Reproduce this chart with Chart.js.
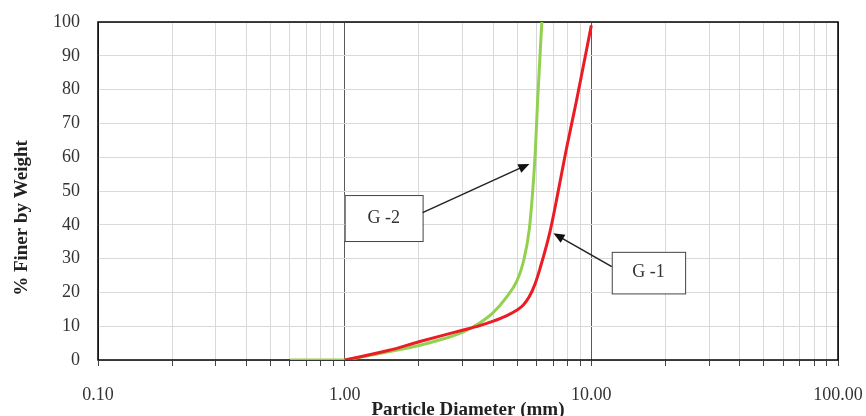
<!DOCTYPE html>
<html>
<head>
<meta charset="utf-8">
<script src="https://cdn.jsdelivr.net/npm/chart.js@4"></script>
<style>
  html, body { margin: 0; padding: 0; background: #ffffff; }
  #chart { display: block; }
</style>
</head>
<body>
<canvas id="chart" width="866" height="416"></canvas>
<script>
// Grain size distribution
const sizesG1 = [1, 1.5, 2, 2.5, 3, 3.5, 4, 4.5, 5, 5.3, 5.6, 5.9, 6.2, 6.8, 7.3, 7.9, 8.7, 10];
const finerG1 = [0, 2.8, 5.4, 7.3, 8.8, 10.1, 11.5, 13, 14.8, 16.3, 18.7, 22.3, 27.2, 38, 49, 62, 76.6, 99];

const sizesG2 = [0.6, 1, 1.1, 1.5, 2, 2.5, 3, 3.5, 4, 4.5, 5, 5.3, 5.6, 5.8, 5.93, 6.06, 6.3];
const finerG2 = [0, 0, 0.5, 2.4, 4.3, 6.2, 8.2, 10.8, 14, 18.3, 23.5, 29, 38.5, 51, 62, 77, 100];

const seriesNames = ['G -1', 'G -2'];
const xDecades = [0.1, 1, 10, 100];
const xTickLabels = ['0.10', '1.00', '10.00', '100.00'];
const yAxisTitle = '% Finer by Weight';

const serif = "'Liberation Serif', 'Times New Roman', serif";

// Callout boxes with arrows, in data units
const callouts = [
    { text: seriesNames[0], box: [12.1, 24.0, 32.0, 19.7], from: [12.1, 27.6], to: [7.02, 37.5] },
    { text: seriesNames[1], box: [1.0, 2.07, 48.8, 35.2], from: [2.07, 43.6], to: [5.61, 58] }
];

function toPoints(xs, ys) {
    return xs.map((x, i) => ({ x: x, y: ys[i] }));
}

// all log grid positions 0.1 .. 100
function logGridValues() {
    const vals = [];
    for (let d = 0; d < xDecades.length - 1; d++) {
        for (let m = 1; m < 10; m++) {
            vals.push(+(xDecades[d] * m).toPrecision(3));
        }
    }
    vals.push(xDecades[xDecades.length - 1]);
    return vals;
}

const calloutPlugin = {
    id: 'callouts',
    beforeDatasetsDraw(chart) {
        const { ctx, chartArea } = chart;
        ctx.save();
        ctx.strokeStyle = '#000';
        ctx.lineWidth = 1.5;
        ctx.strokeRect(chartArea.left, chartArea.top,
            chartArea.right - chartArea.left, chartArea.bottom - chartArea.top);

        // y axis title (sits a bit below the plot's middle in the original)
        ctx.translate(22, 218);
        ctx.rotate(-Math.PI / 2);
        ctx.fillStyle = '#222';
        ctx.font = 'bold 19px ' + serif;
        ctx.textAlign = 'center';
        ctx.textBaseline = 'middle';
        ctx.fillText(yAxisTitle, 0, 0);
        ctx.restore();
    },
    afterDatasetsDraw(chart) {
        const { ctx } = chart;
        const xs = chart.scales.x;
        const ys = chart.scales.y;
        ctx.save();
        callouts.forEach(c => {
            const x1 = xs.getPixelForValue(c.box[0]);
            const x2 = xs.getPixelForValue(c.box[1]);
            const y1 = ys.getPixelForValue(c.box[2]);
            const y2 = ys.getPixelForValue(c.box[3]);
            ctx.fillStyle = '#fff';
            ctx.fillRect(x1, y1, x2 - x1, y2 - y1);
            ctx.strokeStyle = '#444';
            ctx.lineWidth = 1;
            ctx.strokeRect(x1 + 0.5, y1 + 0.5, x2 - x1, y2 - y1);
            ctx.fillStyle = '#333';
            ctx.font = '18px ' + serif;
            ctx.textAlign = 'center';
            ctx.textBaseline = 'middle';
            ctx.fillText(c.text, (x1 + x2) / 2, (y1 + y2) / 2);

            // arrow
            const fx = xs.getPixelForValue(c.from[0]);
            const fy = ys.getPixelForValue(c.from[1]);
            const tx = xs.getPixelForValue(c.to[0]);
            const ty = ys.getPixelForValue(c.to[1]);
            const ang = Math.atan2(ty - fy, tx - fx);
            const head = 12;
            ctx.strokeStyle = '#222';
            ctx.lineWidth = 1.5;
            ctx.beginPath();
            ctx.moveTo(fx, fy);
            ctx.lineTo(tx - Math.cos(ang) * head * 0.8, ty - Math.sin(ang) * head * 0.8);
            ctx.stroke();
            ctx.fillStyle = '#111';
            ctx.beginPath();
            ctx.moveTo(tx, ty);
            ctx.lineTo(tx - head * Math.cos(ang - 0.4), ty - head * Math.sin(ang - 0.4));
            ctx.lineTo(tx - head * Math.cos(ang + 0.4), ty - head * Math.sin(ang + 0.4));
            ctx.closePath();
            ctx.fill();
        });
        ctx.restore();
    }
};

const chart = new Chart(document.getElementById('chart').getContext('2d'), {
    type: 'line',
    data: {
        datasets: [
            {
                label: seriesNames[0],
                data: toPoints(sizesG1, finerG1),
                borderColor: '#ec1c24',
                borderWidth: 3,
                pointRadius: 0,
                fill: false,
                cubicInterpolationMode: 'monotone'
            },
            {
                label: seriesNames[1],
                data: toPoints(sizesG2, finerG2),
                borderColor: '#92d050',
                borderWidth: 3,
                pointRadius: 0,
                fill: false,
                cubicInterpolationMode: 'monotone'
            }
        ]
    },
    options: {
        responsive: false,
        animation: false,
        layout: {
            padding: { left: 0, top: 22, right: 28, bottom: 0 }
        },
        plugins: {
            legend: { display: false },
            tooltip: { enabled: false }
        },
        scales: {
            x: {
                type: 'logarithmic',
                min: 0.1,
                max: 100,
                afterBuildTicks: function(scale) {
                    scale.ticks = logGridValues().map(v => ({ value: v }));
                },
                afterFit: function(scale) {
                    scale.height = 56;
                    scale.paddingLeft = 0;
                    scale.paddingRight = 0;
                },
                ticks: {
                    autoSkip: false,
                    maxRotation: 0,
                    padding: 18,
                    color: '#333',
                    font: { family: serif, size: 18 },
                    callback: function(value) {
                        const i = xDecades.findIndex(d => Math.abs(d - value) < 1e-9);
                        return i >= 0 ? xTickLabels[i] : '';
                    }
                },
                grid: {
                    color: function(ctx) {
                        const v = ctx.tick ? ctx.tick.value : 0;
                        return xDecades.some(d => Math.abs(d - v) < 1e-9) ? '#5a5a5a' : '#d9d9d9';
                    },
                    tickColor: '#444',
                    tickLength: 6
                },
                border: { display: false },
                title: {
                    display: true,
                    text: 'Particle Diameter (mm)',
                    color: '#222',
                    font: { family: serif, size: 19, weight: 'bold' },
                    padding: { top: 0, bottom: -5 }
                }
            },
            y: {
                min: 0,
                max: 100,
                afterFit: function(scale) {
                    scale.width = 98;
                    scale.paddingTop = 0;
                    scale.paddingBottom = 0;
                },
                ticks: {
                    stepSize: 10,
                    padding: 18,
                    color: '#333',
                    font: { family: serif, size: 18 }
                },
                grid: {
                    color: '#d9d9d9',
                    drawTicks: false
                },
                border: { display: false }
            }
        }
    },
    plugins: [calloutPlugin]
});
</script>
</body>
</html>
